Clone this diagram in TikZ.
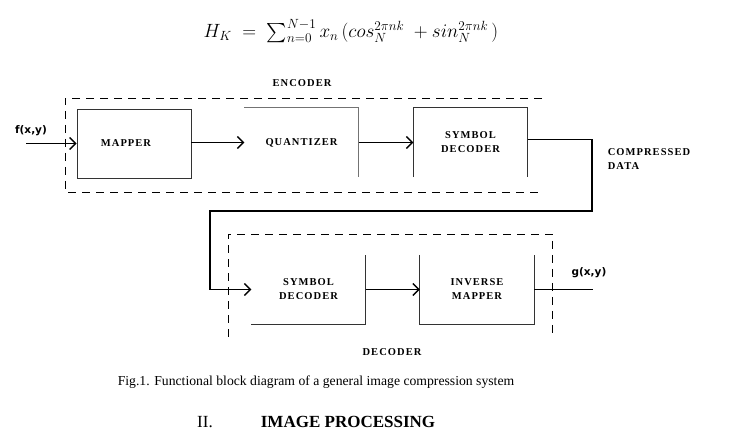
\documentclass[tikz,border=0pt]{standalone}
\usepackage{amsmath}
\usepackage{fontspec}
\setmainfont{Liberation Serif}
\newfontfamily\blkfont[LetterSpace=10]{Liberation Serif}
\newfontfamily\sigfont{DejaVu Sans}
\usepackage{tikz}
\usetikzlibrary{arrows.meta, positioning, calc}

\begin{document}
\begin{tikzpicture}[x=1pt, y=-1pt, >={Straight Barb[length=6pt, width=12pt, line width=1.4pt]}]
  \tikzset{
    blk/.style={minimum width=114pt, minimum height=69pt, inner sep=0pt, align=center,
                font=\blkfont\bfseries\fontsize{10.5}{14}\selectfont},
    side/.style={line width=0.8pt, black!80},
    wire/.style={line width=1.6pt},
    grp/.style={line width=0.8pt, dash pattern=on 8pt off 6pt},
    lbl/.style={font=\blkfont\bfseries\fontsize{10.5}{14}\selectfont, align=left},
    sig/.style={font=\sigfont\bfseries\fontsize{10.5}{12}\selectfont}
  }
  \useasboundingbox (0,0) rectangle (745,446);
  % Formule
  \node[scale=0.925] (eq) at (351,31) {\fontsize{19.2}{23}\selectfont
    $H_K\;=\;\sum_{n=0}^{N-1} x_n\,(cos^{2\pi nk}_{N}\;+sin^{2\pi nk}_{N}\,)$};
  % Encodeur
  \draw[grp] (542,98) -- (65,98) -- (65,192) -- (542,192);
  \node[lbl] (enc) at (302,83) {ENCODER};
  \node[blk, draw, side] (map) at (134,143.5) {};
  \node[blk, minimum width=0pt] (maptxt) at (126,143) {MAPPER};
  \node[blk] (quant) at (301.5,142.5) {QUANTIZER};
  \draw[side, black!55] (quant.north west) -- (quant.north east) -- (quant.south east);
  \node[blk] (sym) at (470.5,142.5) {SYMBOL\\DECODER};
  \draw[side] (sym.south west) -- (sym.north west) -- (sym.north east) -- (sym.south east);
  % Decodeur
  \draw[grp] (228,337) -- (228,234) -- (552,234) -- (552,337);
  \node[lbl] (dec) at (392,352) {DECODER};
  \node[blk] (sym2) at (308.5,289.5) {SYMBOL\\DECODER};
  \draw[side] (sym2.south west) -- (sym2.south east) -- (sym2.north east);
  \node[blk] (inv) at (477,289.5) {INVERSE\\MAPPER};
  \draw[side] (inv.north west) -- (inv.south west) -- (inv.south east) -- (inv.north east);
  % Signaux
  \coordinate (in) at (26,143.5);
  \coordinate (out) at (593,289.5);
  \coordinate (turn) at (592,211);
  \coordinate (back) at (210,211);
  \node[sig] (f) at (31,131) {f(x,y)};
  \node[sig] (g) at (589,273) {g(x,y)};
  \node[lbl] (cd) at (649,159) {COMPRESSED\\DATA};
  % Connexions
  \draw[wire, ->] (in) -- (map.west);
  \draw[wire, ->] (map.east |- quant.west) -- (quant.west);
  \draw[wire, ->] (quant.east) -- (sym.west);
  \draw[wire, ->] ([yshift=3pt]sym.east) -| (turn) -- (back) |- (sym2.west);
  \draw[wire, ->] (sym2.east) -- (inv.west);
  \draw[wire] (inv.east) -- (out);
  % Legende
  \node[font=\fontsize{13.7}{16}\selectfont] (cap) at (316,382) {Fig.1. Functional block diagram of a general image compression system};
  \node[font=\fontsize{17}{20}\selectfont] (num) at (205,422) {II.};
  \node[font=\bfseries\fontsize{17}{20}\selectfont] (sec) at (348,422) {IMAGE PROCESSING};
\end{tikzpicture}
\end{document}
